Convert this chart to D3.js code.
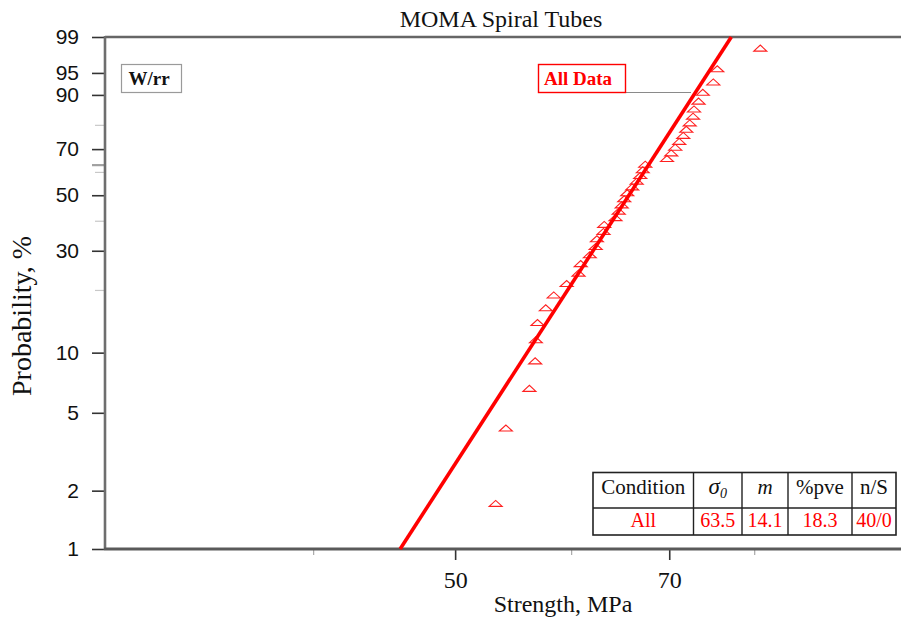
<!DOCTYPE html>
<html><head><meta charset="utf-8">
<script src="https://cdn.jsdelivr.net/npm/d3@7"></script>
<style>
html,body{margin:0;padding:0;background:#fff;}
svg{display:block;}
</style></head><body>
<svg id="chart" width="901" height="624"></svg>
<script>
// ---------- data ----------
const title = "MOMA Spiral Tubes";
const xLabel = "Strength, MPa";
const yLabel = "Probability, %";
const yMajorTicks = [1, 2, 5, 10, 30, 50, 70, 90, 95, 99];
const yMinorTicks = [20, 40, 60, 80];
const yCharTicks = [63.2];
const xMajorTicks = [50, 70];
const xMinorTicks = [40, 60, 80];
const strengths = [53.29, 54.15, 56.19, 56.70, 56.76, 56.91, 57.65, 58.38, 59.58, 60.70,
                   60.91, 61.78, 62.36, 62.48, 63.13, 63.20, 64.33, 64.66, 64.96, 65.22,
                   65.53, 66.04, 66.51, 66.88, 67.14, 67.41, 69.75, 70.22, 70.66, 71.11,
                   71.56, 71.90, 72.29, 72.67, 72.78, 73.30, 73.79, 75.02, 75.49, 80.77];
const probabilities = [1.73, 4.21, 6.68, 9.16, 11.63, 14.11, 16.58, 19.06, 21.53, 24.01,
                       26.49, 28.96, 31.44, 33.91, 36.39, 38.86, 41.34, 43.81, 46.29, 48.76,
                       51.24, 53.71, 56.19, 58.66, 61.14, 63.61, 66.09, 68.56, 71.04, 73.51,
                       75.99, 78.47, 80.94, 83.42, 85.89, 88.37, 90.84, 93.32, 95.79, 98.27];
const fitStrength = [45.86, 77.17];
const fitProbability = [1, 99];
const legendLabel = "W/rr";
const seriesLabel = "All Data";
const tableHeader = ["Condition", "σ", "m", "%pve", "n/S"];
const tableValues = ["All", "63.5", "14.1", "18.3", "40/0"];

// ---------- scales ----------
const svg = d3.select("#chart");
const weib = p => Math.log(-Math.log(1 - p / 100));
const invWeib = w => 100 * (1 - Math.exp(-Math.exp(w)));
const y = d3.scaleLinear().domain([weib(1), weib(99)]).range([549, 37]);
const x = d3.scaleLog().domain([28.84, 100.6]).range([105, 900]);

const serif = "'Liberation Serif','Times New Roman',serif";
const sans = "'Liberation Sans',Arial,sans-serif";

// ---------- title ----------
svg.append("text").attr("x", 501).attr("y", 27).attr("text-anchor", "middle")
  .attr("font-family", serif).attr("font-size", 24).attr("fill", "#111").text(title);

// ---------- y axis ----------
const yMinorAxis = d3.axisLeft(y).tickValues(yMinorTicks.map(weib)).tickSize(9).tickFormat("");
svg.append("g").attr("transform", "translate(104,0)").call(yMinorAxis)
  .call(g => g.select(".domain").remove())
  .call(g => g.selectAll("line").attr("stroke", "#c8c8c8").attr("stroke-width", 1.2));
const yCharAxis = d3.axisLeft(y).tickValues(yCharTicks.map(weib)).tickSize(12).tickFormat("");
svg.append("g").attr("transform", "translate(104,0)").call(yCharAxis)
  .call(g => g.select(".domain").remove())
  .call(g => g.selectAll("line").attr("stroke", "#a0a0a0").attr("stroke-width", 2.2));
const yAxis = d3.axisLeft(y).tickValues(yMajorTicks.map(weib)).tickSize(12).tickPadding(13)
  .tickFormat(w => String(Math.round(invWeib(w))));
svg.append("g").attr("transform", "translate(104,0)").call(yAxis)
  .call(g => g.select(".domain").remove())
  .call(g => g.selectAll("line").attr("stroke", "#333").attr("stroke-width", 1.6))
  .call(g => g.selectAll("text").attr("font-family", sans).attr("font-size", 21).attr("fill", "#111"));

// ---------- x axis ----------
const xMinorAxis = d3.axisBottom(x).tickValues(xMinorTicks).tickSize(6).tickFormat("").tickSizeOuter(0);
svg.append("g").attr("transform", "translate(0,549)").call(xMinorAxis)
  .call(g => g.select(".domain").remove())
  .call(g => g.selectAll("line").attr("stroke", "#a8a8a8").attr("stroke-width", 1.2));
const xAxis = d3.axisBottom(x).tickValues(xMajorTicks).tickSize(11).tickPadding(11)
  .tickFormat(d3.format("d"));
svg.append("g").attr("transform", "translate(0,549)").call(xAxis)
  .call(g => g.select(".domain").remove())
  .call(g => g.selectAll("line").attr("stroke", "#333").attr("stroke-width", 1.6))
  .call(g => g.selectAll("text").attr("font-family", serif).attr("font-size", 24).attr("fill", "#111"));

// frame lines
svg.append("line").attr("x1", 105).attr("x2", 901).attr("y1", 37).attr("y2", 37)
  .attr("stroke", "#666").attr("stroke-width", 2.5);
svg.append("line").attr("x1", 105).attr("x2", 105).attr("y1", 36).attr("y2", 550)
  .attr("stroke", "#6e6e6e").attr("stroke-width", 2.6);
svg.append("line").attr("x1", 104).attr("x2", 901).attr("y1", 549).attr("y2", 549)
  .attr("stroke", "#5a5a5a").attr("stroke-width", 3);

// axis titles
svg.append("text").attr("x", 563).attr("y", 612).attr("text-anchor", "middle")
  .attr("font-family", serif).attr("font-size", 24).attr("fill", "#111").text(xLabel);
svg.append("text").attr("transform", "translate(31,316) rotate(-90)").attr("text-anchor", "middle")
  .attr("font-family", serif).attr("font-size", 28).attr("fill", "#111").text(yLabel);

// ---------- data points ----------
const pts = strengths.map((s, i) => ({s, p: probabilities[i]}));
svg.append("g").selectAll("path").data(pts).join("path")
  .attr("d", d => {
    const cx = x(d.s), cy = y(weib(d.p));
    return `M${cx - 6.5},${cy + 3.5}L${cx},${cy - 2.5}L${cx + 6.5},${cy + 3.5}Z`;
  })
  .attr("fill", "none").attr("stroke", "#ff2020").attr("stroke-width", 1.1);

// ---------- fit line ----------
const fit = fitStrength.map((s, i) => ({s, p: fitProbability[i]}));
svg.append("path").datum(fit)
  .attr("d", d3.line().x(d => x(d.s)).y(d => y(weib(d.p))))
  .attr("stroke", "#ff0000").attr("stroke-width", 3.6).attr("fill", "none");

// ---------- legend boxes ----------
svg.append("rect").attr("x", 121.5).attr("y", 64.5).attr("width", 60).attr("height", 28)
  .attr("fill", "#fff").attr("stroke", "#9a9a9a").attr("stroke-width", 1.2);
svg.append("text").attr("x", 149).attr("y", 85).attr("text-anchor", "middle")
  .attr("font-family", serif).attr("font-weight", "bold").attr("font-size", 19)
  .attr("fill", "#111").text(legendLabel);

svg.append("line").attr("x1", 626).attr("x2", 691).attr("y1", 92.5).attr("y2", 92.5)
  .attr("stroke", "#8a8a8a").attr("stroke-width", 1);
svg.append("rect").attr("x", 538.5).attr("y", 64.5).attr("width", 87).attr("height", 28)
  .attr("fill", "#fff").attr("stroke", "#ff0000").attr("stroke-width", 1.4);
svg.append("text").attr("x", 578).attr("y", 85).attr("text-anchor", "middle")
  .attr("font-family", serif).attr("font-weight", "bold").attr("font-size", 19)
  .attr("fill", "#ff0000").text(seriesLabel);

// ---------- table ----------
const colEdges = [593, 693.5, 742, 788, 852, 896];
const rowEdges = [472.5, 508, 535];
const tg = svg.append("g");
tg.append("rect").attr("x", colEdges[0]).attr("y", rowEdges[0])
  .attr("width", colEdges[5] - colEdges[0]).attr("height", rowEdges[2] - rowEdges[0])
  .attr("fill", "#fff").attr("stroke", "#222").attr("stroke-width", 1.6);
tg.append("line").attr("x1", colEdges[0]).attr("x2", colEdges[5]).attr("y1", rowEdges[1]).attr("y2", rowEdges[1])
  .attr("stroke", "#222").attr("stroke-width", 1.4);
colEdges.slice(1, 5).forEach(cx => tg.append("line").attr("x1", cx).attr("x2", cx)
  .attr("y1", rowEdges[0]).attr("y2", rowEdges[2]).attr("stroke", "#222").attr("stroke-width", 1.4));
tableHeader.forEach((h, i) => {
  const cx = (colEdges[i] + colEdges[i + 1]) / 2;
  const t = tg.append("text").attr("x", cx).attr("y", 494).attr("text-anchor", "middle")
    .attr("font-family", serif).attr("font-size", 21).attr("fill", "#111");
  if (i === 1) {
    t.append("tspan").attr("font-style", "italic").attr("font-size", 23).text(h);
    t.append("tspan").attr("font-style", "italic").attr("font-size", 14).attr("dy", 4).text("0");
  } else if (i === 2) {
    t.attr("font-style", "italic").text(h);
  } else {
    t.text(h);
  }
});
tableValues.forEach((v, i) => {
  const cx = (colEdges[i] + colEdges[i + 1]) / 2;
  tg.append("text").attr("x", cx).attr("y", 527).attr("text-anchor", "middle")
    .attr("font-family", serif).attr("font-size", 20).attr("fill", "#ff0000").text(v);
});
</script>
</body></html>
